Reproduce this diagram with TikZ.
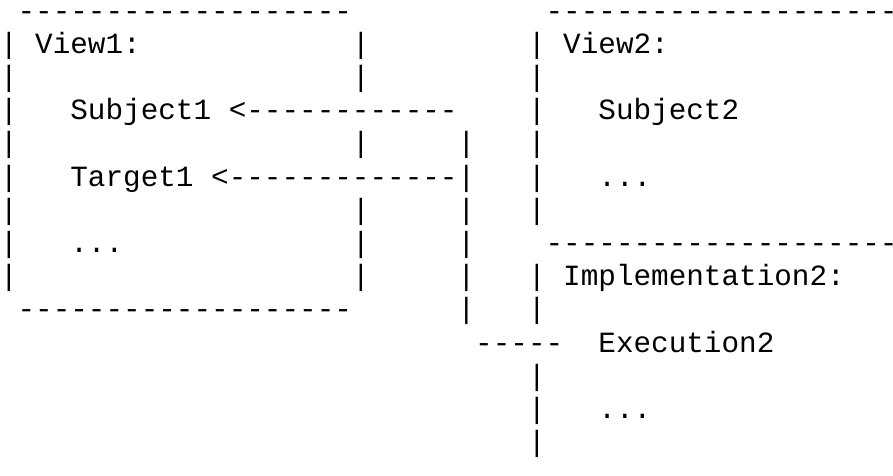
\documentclass[tikz,border=0pt]{standalone}
\usepackage{fontspec}
\setmonofont{Liberation Mono}
\begin{document}
\begin{tikzpicture}[x=17.6pt,y=-33.2pt,
    ch/.style={anchor=base west,inner sep=0pt,outer sep=0pt,
      font=\ttfamily\fontsize{29.33}{33.2}\selectfont}]
  \useasboundingbox (0pt,0pt) rectangle (893pt,-475pt);
  \clip (0pt,0pt) rectangle (893pt,-475pt);
  \begin{scope}[yshift=-20.1pt] % baseline of row 0
    % left box
    \node[ch] (top1) at (1,0) {-------------------};
    \node[ch] (view1) at (2,1) {View1:};
    \node[ch] (subject1) at (4,3) {Subject1};
    \node[ch] (arr1) at (13,3) {<------------};
    \node[ch] (target1) at (4,5) {Target1};
    \node[ch] (arr2) at (12,5) {<-------------|};
    \node[ch] (dots1) at (4,7) {...};
    \node[ch] (bot1) at (1,9) {-------------------};
    \foreach \r in {1,...,8} \node[ch] (l\r) at (0,\r) {|};
    \foreach \r in {1,2,4,6,7,8} \node[ch] (r\r) at (20,\r) {|};
    % link to execution
    \foreach \r in {4,6,7,8,9} \node[ch] (j\r) at (26,\r) {|};
    \node[ch] (link) at (27,10) {-----};
    % right boxes
    \node[ch] (top2) at (31,0) {--------------------};
    \node[ch] (view2) at (32,1) {View2:};
    \node[ch] (subject2) at (34,3) {Subject2};
    \node[ch] (dots2) at (34,5) {...};
    \node[ch] (top3) at (31,7) {--------------------};
    \node[ch] (impl2) at (32,8) {Implementation2:};
    \node[ch] (exec2) at (34,10) {Execution2};
    \node[ch] (dots3) at (34,12) {...};
    \foreach \r in {1,2,3,4,5,6,8,9,11,12,13} \node[ch] (b\r) at (30,\r) {|};
  \end{scope}
\end{tikzpicture}
\end{document}
